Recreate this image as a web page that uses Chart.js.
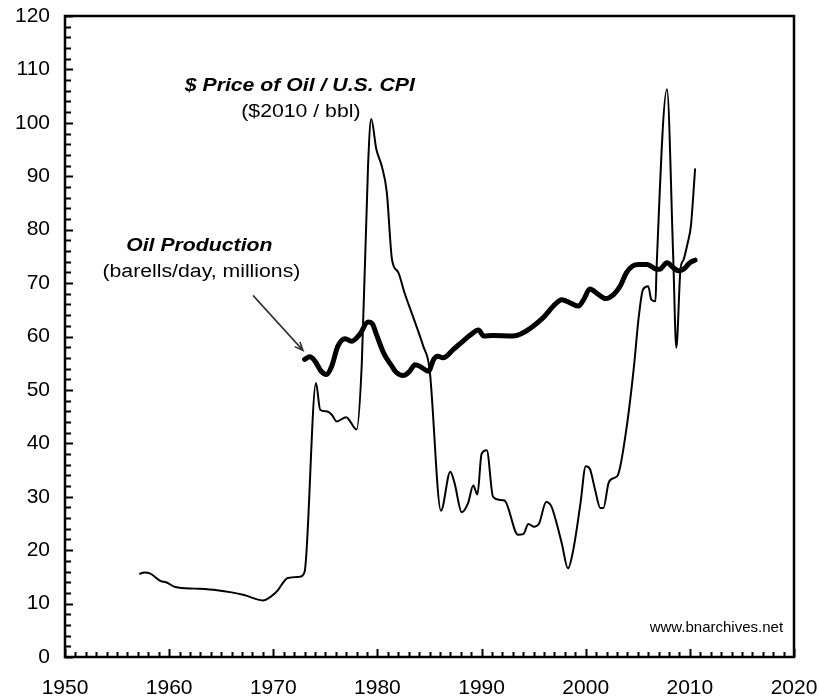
<!DOCTYPE html>
<html>
<head>
<meta charset="utf-8">
<script src="https://cdn.jsdelivr.net/npm/chart.js@4.4.1/dist/chart.umd.min.js"></script>
<style>
    html, body { margin: 0; padding: 0; background: #fff; }
    #oilChart { display: block; }
</style>
</head>
<body>
<canvas id="oilChart" width="819" height="700"></canvas>
<script>
    const priceYears = [1957.2, 1957.6, 1958.2, 1959.2, 1959.7, 1960.6, 1962.5, 1964.6, 1966.0, 1967.2,
        1969.0, 1970.3, 1971.4, 1972.5, 1973.0, 1974.1, 1974.5, 1975.1, 1975.6, 1976.1,
        1977.0, 1978.0, 1978.5, 1979.1, 1979.4, 1979.9, 1980.4, 1980.9, 1981.4, 1982.0,
        1982.6, 1983.4, 1984.4, 1985.0, 1986.1, 1987.0, 1987.4, 1988.1, 1988.7, 1989.2,
        1989.6, 1990.0, 1990.5, 1991.1, 1991.8, 1992.2, 1993.5, 1994.0, 1994.5, 1995.0,
        1995.5, 1996.2, 1996.7, 1997.2, 1997.7, 1998.3, 1998.8, 1999.5, 2000.0, 2000.4,
        2000.9, 2001.4, 2001.7, 2002.2, 2002.7, 2003.1, 2003.9, 2004.6, 2005.1, 2005.5,
        2006.0, 2006.3, 2006.7, 2006.8, 2007.8, 2008.4, 2008.7, 2009.1, 2009.4, 2009.8,
        2010.1, 2010.5];
    const priceValues = [15.6, 15.8, 15.6, 14.2, 14.0, 13.1, 12.8, 12.5, 12.1, 11.6,
        10.6, 12.2, 14.8, 15.0, 15.9, 51.3, 46.3, 46.0, 45.4, 44.1,
        44.9, 42.6, 55.0, 92.0, 100.7, 95.0, 92.0, 87.0, 74.4, 72.0,
        68.2, 63.8, 58.2, 54.0, 27.4, 34.7, 32.6, 27.1, 28.8, 32.1,
        30.4, 38.0, 38.7, 30.0, 29.4, 29.3, 22.9, 23.0, 24.9, 24.4,
        24.9, 29.0, 28.2, 25.1, 21.3, 16.6, 20.0, 28.8, 35.7, 35.2,
        31.3, 27.9, 27.9, 32.6, 33.5, 34.1, 42.6, 53.8, 63.8, 68.8,
        69.4, 66.9, 66.6, 72.6, 106.3, 75.0, 57.9, 72.6, 74.4, 77.6,
        80.7, 91.3];

    // world oil production (barrels/day, millions)
    const prodYears = [1973.0, 1973.5, 1974.0, 1974.6, 1975.1, 1975.6, 1976.2, 1976.9, 1977.5, 1978.3,
        1979.1, 1979.5, 1979.9, 1980.6, 1981.4, 1981.8, 1982.5, 1983.1, 1983.6, 1984.1,
        1984.9, 1985.4, 1985.8, 1986.3, 1987.3, 1988.2, 1989.0, 1989.7, 1990.2, 1991.1,
        1993.0, 1993.7, 1995.9, 1996.9, 1997.7, 1998.5, 1999.3, 1999.8, 2000.4, 2001.2,
        2001.9, 2002.7, 2003.3, 2003.9, 2004.5, 2005.1, 2005.9, 2006.8, 2007.1, 2007.8,
        2008.4, 2008.9, 2009.4, 2010.0, 2010.5];
    const prodValues = [55.7, 56.2, 55.4, 53.5, 52.9, 54.4, 58.2, 59.6, 59.1, 60.4,
        62.7, 62.4, 60.4, 56.9, 54.4, 53.3, 52.7, 53.5, 54.7, 54.4,
        53.5, 55.7, 56.3, 56.0, 57.6, 59.1, 60.4, 61.2, 60.1, 60.2,
        60.1, 60.4, 63.5, 65.7, 66.9, 66.3, 65.7, 66.9, 68.9, 67.9,
        67.1, 67.9, 69.4, 71.9, 73.2, 73.5, 73.5, 72.6, 72.6, 73.8,
        72.9, 72.3, 72.6, 73.8, 74.3];

    const yearTicks = [1950, 1960, 1970, 1980, 1990, 2000, 2010, 2020];
    const valueTicks = [0, 10, 20, 30, 40, 50, 60, 70, 80, 90, 100, 110, 120];

    const FONT = "'Liberation Sans', Arial, sans-serif";

    function toPoints(xs, ys) {
        return xs.map((x, i) => ({ x: x, y: ys[i] }));
    }

    // keep the plot box fixed: no extra padding for edge labels
    function fixBox(scale) {
        scale.paddingTop = 0;
        scale.paddingBottom = 0;
        scale.paddingLeft = 0;
        scale.paddingRight = 0;
    }

    // frame, inward tick marks, labels and arrow
    const decorations = {
        id: 'decorations',
        afterDraw(chart) {
            const ctx = chart.ctx;
            const area = chart.chartArea;
            const x = chart.scales.x;
            const y = chart.scales.y;
            ctx.save();

            ctx.strokeStyle = '#000';
            ctx.lineWidth = 2;
            ctx.beginPath();
            for (let v = 0; v <= 120; v += 2) {
                const py = Math.round(y.getPixelForValue(v)) + 0.5;
                const len = v % 10 === 0 ? 8 : 6;
                ctx.moveTo(area.left, py);
                ctx.lineTo(area.left + len, py);
            }
            for (let yr = 1950; yr <= 2020; yr++) {
                const px = Math.round(x.getPixelForValue(yr)) + 0.5;
                const len = yr % 10 === 0 ? 8 : 5;
                ctx.moveTo(px, area.bottom);
                ctx.lineTo(px, area.bottom - len);
            }
            ctx.stroke();

            ctx.lineWidth = 2.5;
            ctx.strokeRect(area.left, area.top, area.right - area.left, area.bottom - area.top);

            // stretched annotation text
            function label(text, year, value, style) {
                ctx.save();
                ctx.translate(x.getPixelForValue(year), y.getPixelForValue(value));
                ctx.scale(1.18, 1);
                ctx.font = style + ' 18px ' + FONT;
                ctx.fillStyle = '#000';
                ctx.textAlign = 'center';
                ctx.textBaseline = 'alphabetic';
                ctx.fillText(text, 0, 0);
                ctx.restore();
            }
            label('$ Price of Oil / U.S. CPI', 1972.55, 105.9, 'italic bold');
            label('($2010 / bbl)', 1972.65, 101.1, 'normal');
            label('Oil Production', 1962.9, 76.0, 'italic bold');
            label('(barells/day, millions)', 1963.1, 71.1, 'normal');

            // arrow to the production line
            const x1 = x.getPixelForValue(1968.05), y1 = y.getPixelForValue(67.7);
            const x2 = x.getPixelForValue(1972.85), y2 = y.getPixelForValue(57.4);
            const ang = Math.atan2(y2 - y1, x2 - x1);
            ctx.strokeStyle = '#333';
            ctx.lineWidth = 1.6;
            ctx.beginPath();
            ctx.moveTo(x1, y1);
            ctx.lineTo(x2, y2);
            ctx.moveTo(x2 - 9 * Math.cos(ang - 0.4), y2 - 9 * Math.sin(ang - 0.4));
            ctx.lineTo(x2, y2);
            ctx.lineTo(x2 - 9 * Math.cos(ang + 0.4), y2 - 9 * Math.sin(ang + 0.4));
            ctx.stroke();

            ctx.font = '15px ' + FONT;
            ctx.fillStyle = '#000';
            ctx.textAlign = 'right';
            ctx.textBaseline = 'middle';
            ctx.fillText('www.bnarchives.net', x.getPixelForValue(2018.95), y.getPixelForValue(5.4));

            ctx.restore();
        }
    };

    const ctx = document.getElementById('oilChart').getContext('2d');
    window.oilChart = new Chart(ctx, {
        type: 'line',
        data: {
            datasets: [{
                label: 'Price of Oil / U.S. CPI',
                data: toPoints(priceYears, priceValues),
                borderColor: '#000',
                borderWidth: 2,
                pointRadius: 0,
                cubicInterpolationMode: 'monotone',
                borderJoinStyle: 'round',
                borderCapStyle: 'round',
                fill: false
            }, {
                label: 'Oil Production',
                data: toPoints(prodYears, prodValues),
                borderColor: '#000',
                borderWidth: 5,
                pointRadius: 0,
                cubicInterpolationMode: 'monotone',
                borderJoinStyle: 'round',
                borderCapStyle: 'round',
                fill: false
            }]
        },
        options: {
            responsive: false,
            animation: false,
            layout: {
                padding: { top: 16, right: 25, left: 0, bottom: 0 }
            },
            plugins: {
                legend: { display: false },
                tooltip: { enabled: false }
            },
            scales: {
                x: {
                    type: 'linear',
                    min: 1950,
                    max: 2020,
                    afterBuildTicks: function(scale) {
                        scale.ticks = yearTicks.map(v => ({ value: v }));
                    },
                    afterFit: function(scale) {
                        scale.height = 43;
                        fixBox(scale);
                    },
                    ticks: {
                        color: '#000',
                        font: { family: FONT, size: 21 },
                        padding: 19,
                        maxRotation: 0,
                        callback: v => String(v)
                    },
                    grid: { display: false, drawTicks: false },
                    border: { display: false }
                },
                y: {
                    min: 0,
                    max: 120,
                    afterBuildTicks: function(scale) {
                        scale.ticks = valueTicks.map(v => ({ value: v }));
                    },
                    afterFit: function(scale) {
                        scale.width = 65;
                        fixBox(scale);
                    },
                    ticks: {
                        color: '#000',
                        font: { family: FONT, size: 21 },
                        padding: 15
                    },
                    grid: { display: false, drawTicks: false },
                    border: { display: false }
                }
            }
        },
        plugins: [decorations]
    });
</script>
</body>
</html>
